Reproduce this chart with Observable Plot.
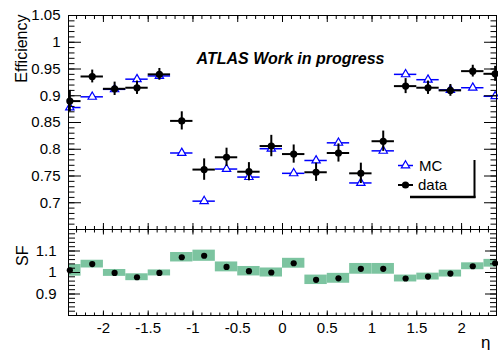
<!DOCTYPE html>
<html>
<head>
<meta charset="utf-8">
<script src="https://cdn.jsdelivr.net/npm/d3@7"></script>
<script src="https://cdn.jsdelivr.net/npm/@observablehq/plot@0.6"></script>
<style>
  html, body { margin: 0; padding: 0; background: white; }
  #wrap { position: relative; width: 498px; height: 350px; font-family: 'Liberation Sans', Arial, sans-serif; }
  #wrap svg.plot, #wrap > svg { position: absolute; left: 0; background: transparent; }
  #legend { position: absolute; left: 390px !important; top: 150px !important; }
</style>
</head>
<body>
<div id="wrap"></div>
<script>
// ---- data ----
const etaCenters = [-2.375, -2.125, -1.875, -1.625, -1.375, -1.125, -0.875, -0.625, -0.375, -0.125,
                     0.125, 0.375, 0.625, 0.875, 1.125, 1.375, 1.625, 1.875, 2.125, 2.375];
const binHalfWidth = 0.125;
const dataEff = [0.890, 0.936, 0.913, 0.915, 0.940, 0.853, 0.762, 0.785, 0.758, 0.806,
                 0.791, 0.757, 0.793, 0.755, 0.815, 0.918, 0.915, 0.910, 0.946, 0.941];
const dataErr = [0.020, 0.012, 0.0125, 0.0125, 0.011, 0.017, 0.020, 0.017, 0.017, 0.020,
                 0.017, 0.017, 0.017, 0.019, 0.019, 0.014, 0.0125, 0.011, 0.011, 0.014];
const mcEff   = [0.878, 0.898, 0.912, 0.931, 0.937, 0.793, 0.703, 0.763, 0.748, 0.801,
                 0.755, 0.779, 0.812, 0.737, 0.797, 0.940, 0.930, 0.911, 0.915, 0.899];
const sfVal   = [1.010, 1.039, 0.998, 0.978, 0.998, 1.071, 1.078, 1.026, 1.006, 1.000,
                 1.043, 0.966, 0.973, 1.017, 1.017, 0.972, 0.981, 0.995, 1.029, 1.043];
const sfErr   = [0.027, 0.018, 0.016, 0.016, 0.014, 0.022, 0.026, 0.023, 0.022, 0.021,
                 0.023, 0.022, 0.023, 0.025, 0.025, 0.016, 0.016, 0.016, 0.016, 0.018];

const xTicks = [-2, -1.5, -1, -0.5, 0, 0.5, 1, 1.5, 2];
const yTicksTop = [0.7, 0.75, 0.8, 0.85, 0.9, 0.95, 1, 1.05];
const yTicksBottom = [0.9, 1, 1.1];
const xDomain = [-2.39, 2.39];
const yDomainTop = [0.65, 1.05];
const yDomainBottom = [0.8, 1.2];
const titleText = "ATLAS Work in progress";
const legendItems = ["MC", "data"];

// minor ticks
const rnd = v => Math.round(v * 1000) / 1000;
const xMinor = d3.range(-23, 24).map(k => rnd(k / 10));
const yMinorTop = d3.range(66, 106).map(k => rnd(k / 100));
const yMinorBottom = d3.range(41, 60).map(k => rnd(k / 50));

const rows = etaCenters.map((e, i) => ({
  eta: e, lo: e - binHalfWidth, hi: e + binHalfWidth,
  d: dataEff[i], dLo: dataEff[i] - dataErr[i], dHi: dataEff[i] + dataErr[i],
  mc: mcEff[i],
  sf: sfVal[i], sfLo: sfVal[i] - sfErr[i], sfHi: sfVal[i] + sfErr[i]
}));

const FONT = "'Liberation Sans', Arial, Helvetica, sans-serif";
const blank = () => "";
const fmt = d => String(d);

const topPlot = Plot.plot({
  width: 498, height: 230,
  marginLeft: 68, marginRight: 2, marginTop: 15, marginBottom: 1,
  style: { fontFamily: FONT, fontSize: "15px", background: "transparent", color: "black" },
  x: { domain: xDomain },
  y: { domain: yDomainTop },
  marks: [
    Plot.ruleY(rows, { y: "mc", x1: "lo", x2: "hi", stroke: "#0000ff", strokeWidth: 1.5, clip: true }),
    Plot.dot(rows, { x: "eta", y: "mc", symbol: "triangle", r: 3.1, stroke: "#0000ff", fill: "white", strokeWidth: 1.2 }),
    Plot.ruleY(rows, { y: "d", x1: "lo", x2: "hi", stroke: "black", strokeWidth: 2, clip: true }),
    Plot.ruleX(rows, { x: "eta", y1: "dLo", y2: "dHi", stroke: "black", strokeWidth: 2 }),
    Plot.dot(rows, { x: "eta", y: "d", r: 3.6, fill: "black" }),
    Plot.axisY({ anchor: "left", ticks: yTicksTop, tickSize: -13, tickFormat: blank, label: null }),
    Plot.axisY({ anchor: "left", ticks: yMinorTop, tickSize: -6.5, tickFormat: blank, label: null }),
    Plot.axisY({ anchor: "right", ticks: yTicksTop, tickSize: -13, tickFormat: blank, label: null }),
    Plot.axisY({ anchor: "right", ticks: yMinorTop, tickSize: -6.5, tickFormat: blank, label: null }),
    Plot.axisY({ anchor: "left", ticks: yTicksTop, tickSize: 0, tickPadding: 8, tickFormat: fmt, label: null, fontSize: 15 }),
    Plot.axisX({ anchor: "top", ticks: xTicks, tickSize: -6, tickFormat: blank, label: null }),
    Plot.axisX({ anchor: "top", ticks: xMinor, tickSize: -3, tickFormat: blank, label: null }),
    Plot.axisX({ anchor: "bottom", ticks: xTicks, tickSize: -6, tickFormat: blank, label: null }),
    Plot.axisX({ anchor: "bottom", ticks: xMinor, tickSize: -3, tickFormat: blank, label: null }),
    Plot.frame({ stroke: "black" }),
    Plot.text([titleText], { frameAnchor: "top", dx: 8, dy: 37, fontWeight: "bold", fontStyle: "italic", fontSize: 16 }),
    Plot.text(["Efficiency"], { frameAnchor: "top-left", rotate: -90, textAnchor: "end", dx: -53, dy: -1, fontSize: 16 })
  ]
});
topPlot.style.top = "0px";

const bottomPlot = Plot.plot({
  width: 498, height: 121,
  marginLeft: 68, marginRight: 2, marginTop: 0, marginBottom: 35,
  style: { fontFamily: FONT, fontSize: "15px", background: "transparent", color: "black" },
  x: { domain: xDomain },
  y: { domain: yDomainBottom },
  marks: [
    Plot.rect(rows, { x1: "lo", x2: "hi", y1: "sfLo", y2: "sfHi", fill: "#7cc4a0", clip: true }),
    Plot.dot(rows, { x: "eta", y: "sf", r: 3.1, fill: "black" }),
    Plot.axisY({ anchor: "left", ticks: yTicksBottom, tickSize: -12, tickFormat: blank, label: null }),
    Plot.axisY({ anchor: "left", ticks: yMinorBottom, tickSize: -7, tickFormat: blank, label: null }),
    Plot.axisY({ anchor: "right", ticks: yTicksBottom, tickSize: -12, tickFormat: blank, label: null }),
    Plot.axisY({ anchor: "right", ticks: yMinorBottom, tickSize: -7, tickFormat: blank, label: null }),
    Plot.axisY({ anchor: "left", ticks: yTicksBottom, tickSize: 0, tickPadding: 12, tickFormat: fmt, label: null, fontSize: 15 }),
    Plot.axisX({ anchor: "top", ticks: xTicks, tickSize: -4.5, tickFormat: blank, label: null }),
    Plot.axisX({ anchor: "top", ticks: xMinor, tickSize: -2.5, tickFormat: blank, label: null }),
    Plot.axisX({ anchor: "bottom", ticks: xTicks, tickSize: -4.5, tickFormat: blank, label: null }),
    Plot.axisX({ anchor: "bottom", ticks: xMinor, tickSize: -2.5, tickFormat: blank, label: null }),
    Plot.axisX({ anchor: "bottom", ticks: xTicks, tickSize: 0, tickPadding: 7, tickFormat: fmt, label: null, fontSize: 15 }),
    Plot.frame({ stroke: "black" }),
    Plot.text(["SF"], { frameAnchor: "top-left", rotate: -90, dx: -51.5, dy: 36.5, fontSize: 16 }),
    Plot.text(["η"], { frameAnchor: "bottom-right", dx: -6, dy: 32, fontSize: 17 })
  ]
});
bottomPlot.style.top = "229px";

const wrap = document.getElementById("wrap");
wrap.appendChild(topPlot);
wrap.appendChild(bottomPlot);

// legend (inside top panel, as in the reference)
const ns = "http://www.w3.org/2000/svg";
const lg = document.createElementNS(ns, "svg");
lg.setAttribute("id", "legend");
lg.setAttribute("width", "100");
lg.setAttribute("height", "55");
lg.innerHTML = `
  <line x1="8" x2="23" y1="15.5" y2="15.5" stroke="#0000ff" stroke-width="1.5"/>
  <path d="${d3.symbol(d3.symbolTriangle, 3.1 * 3.1 * Math.PI)()}" transform="translate(15.5,15.5)" fill="white" stroke="#0000ff" stroke-width="1.2"/>
  <text x="29" y="20.5" font-size="15" font-family="${FONT}">${legendItems[0]}</text>
  <line x1="8" x2="23" y1="35" y2="35" stroke="black" stroke-width="2"/>
  <circle cx="15.5" cy="35" r="3.6" fill="black"/>
  <text x="28" y="40" font-size="15" font-family="${FONT}">${legendItems[1]}</text>
  <line x1="84.5" x2="84.5" y1="10" y2="48" stroke="black" stroke-width="2"/>
  <line x1="20" x2="85.5" y1="47" y2="47" stroke="black" stroke-width="2.5"/>
`;
wrap.appendChild(lg);
</script>
</body>
</html>
